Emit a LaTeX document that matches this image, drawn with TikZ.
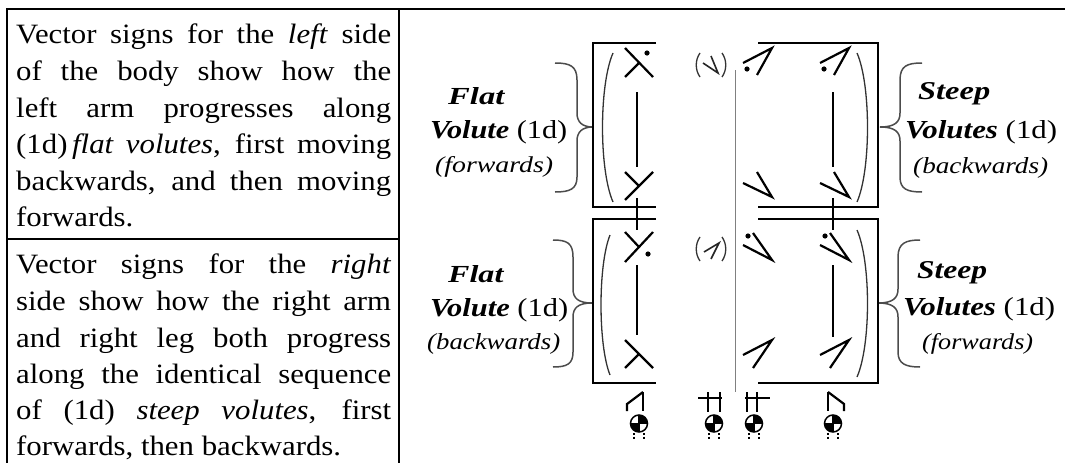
\documentclass[tikz,border=0pt]{standalone}
\usepackage{fontspec}
\setmainfont{Liberation Serif}[FakeStretch=1.1]
\newfontfamily\lblfont{Liberation Serif}
\usepackage{graphicx}
\newcommand{\lblbox}[3]{\resizebox{#1pt}{#2pt}{\lblfont #3}}
\begin{document}
\begin{tikzpicture}[x=1pt,y=-1pt,
  txt/.style={anchor=base west,inner sep=0pt,font=\fontsize{28}{36}\selectfont},
  lbl/.style={anchor=base west,inner sep=0pt,font=\fontsize{22}{24}\selectfont},
  tbl/.style={line width=2.5pt},
  boxln/.style={line width=1.6pt},
  sym/.style={line width=2.2pt},
  thin/.style={line width=1.6pt,draw=black!85},
  brace/.style={line width=1.5pt,draw=black!70},
  parn/.style={line width=1.3pt,draw=black!80},
  foot/.style={line width=1.6pt,dash pattern=on 2pt off 1.5pt}]
\useasboundingbox (0,0) rectangle (1065,463);
% table
\coordinate (tl) at (6,9);
\coordinate (tr) at (1065,9);
\coordinate (bl) at (7,463);
\coordinate (dt) at (399,9);
\coordinate (db) at (399,463);
\coordinate (ml) at (7,239);
\coordinate (mr) at (399,239);
\draw[tbl] (tl) -- (tr);
\draw[tbl] (7,9) -- (bl);
\draw[tbl] (dt) -- (db);
\draw[tbl] (ml) -- (mr);
% left texts
\newcommand{\jl}[1]{\makebox[375pt][s]{#1}}
\node[txt] (a1) at (16,43) {\jl{Vector signs for the \textit{left} side}};
\node[txt] (a2) at (16,80) {\jl{of the body show how the}};
\node[txt] (a3) at (16,117) {\jl{left arm progresses along}};
\node[txt] (a4) at (16,153) {\jl{(1d)\,\textit{flat volutes}, first moving}};
\node[txt] (a5) at (16,190) {\jl{backwards, and then moving}};
\node[txt] (a6) at (16,226) {forwards.};
\node[txt] (b1) at (16,273) {\jl{Vector signs for the \textit{right}}};
\node[txt] (b2) at (16,310) {\jl{side show how the right arm}};
\node[txt] (b3) at (16,347) {\jl{and right leg both progress}};
\node[txt] (b4) at (16,383) {\jl{along the identical sequence}};
\node[txt] (b5) at (16,419) {\jl{of (1d) \textit{steep volutes}, first}};
\node[txt] (b6) at (16,455) {forwards, then backwards.};
% labels left
\node[lbl] (fl1) at (448,104) {\lblbox{57}{17}{\textbf{\textit{Flat}}}};
\node[lbl] (vo1) at (430,138) {\lblbox{137}{18}{\textbf{\textit{Volute}} (1d)}};
\node[lbl] (fw1) at (435,172) {\lblbox{118}{16}{\textit{(forwards)}}};
\node[lbl] (fl2) at (448,282) {\lblbox{56}{17}{\textbf{\textit{Flat}}}};
\node[lbl] (vo2) at (430,316) {\lblbox{138}{18}{\textbf{\textit{Volute}} (1d)}};
\node[lbl] (bw2) at (427,349) {\lblbox{133}{16}{\textit{(backwards)}}};
% labels right
\node[lbl] (st1) at (918,99) {\lblbox{72}{17}{\textbf{\textit{Steep}}}};
\node[lbl] (vs1) at (905,138) {\lblbox{152}{18}{\textbf{\textit{Volutes}} (1d)}};
\node[lbl] (bw1) at (913,173) {\lblbox{135}{16}{\textit{(backwards)}}};
\node[lbl] (st2) at (917,278) {\lblbox{70}{17}{\textbf{\textit{Steep}}}};
\node[lbl] (vs2) at (903,315) {\lblbox{152}{18}{\textbf{\textit{Volutes}} (1d)}};
\node[lbl] (fw2) at (922,349) {\lblbox{111}{16}{\textit{(forwards)}}};
% braces
\draw[brace] (555,63) .. controls (570,63) and (577,66) .. (577,80) -- (577,113) .. controls (577,122) and (582,127) .. (593,127) .. controls (582,127) and (577,132) .. (577,141) -- (577,177) .. controls (577,189) and (570,192) .. (555,192);
\draw[brace] (553,240) .. controls (567,240) and (573,243) .. (573,257) -- (573,289) .. controls (573,298) and (578,303) .. (592,303) .. controls (578,303) and (573,308) .. (573,317) -- (573,352) .. controls (573,364) and (567,367) .. (553,367);
\draw[brace] (922,63) .. controls (907,63) and (900,66) .. (900,80) -- (900,113) .. controls (900,122) and (895,127) .. (880,127) .. controls (895,127) and (900,132) .. (900,141) -- (900,177) .. controls (900,189) and (907,192) .. (922,192);
\draw[brace] (920,240) .. controls (906,240) and (898,243) .. (898,257) -- (898,289) .. controls (898,298) and (893,303) .. (878,303) .. controls (893,303) and (898,308) .. (898,317) -- (898,352) .. controls (898,364) and (906,367) .. (920,367);
% boxes
\draw[boxln] (656,43) -- (593,43) -- (593,207) -- (656,207);
\draw[boxln] (656,219) -- (593,219) -- (593,383) -- (656,383);
\draw[boxln] (758,43) -- (878,43) -- (878,207) -- (758,207);
\draw[boxln] (758,219) -- (878,219) -- (878,383) -- (758,383);
% parens
\draw[parn] (613,53) .. controls (599,85) and (599,170) .. (613,202);
\draw[parn] (610,235) .. controls (598,265) and (598,345) .. (610,375);
\draw[parn] (857,53) .. controls (871,85) and (871,170) .. (857,202);
\draw[parn] (857,230) .. controls (871,262) and (871,345) .. (857,377);
% ticks and stems
\draw[boxln] (637,198) -- (637,230);
\draw[boxln] (833,198) -- (833,230);
\draw[boxln] (637,92) -- (637,167);
\draw[boxln] (637,265) -- (637,335);
\draw[boxln] (833,92) -- (833,167);
\draw[boxln] (833,265) -- (833,337);
% centre line
\draw[line width=1pt,draw=black!50] (735,70) -- (735,392);
% left column symbols
\draw[sym] (625,48) -- (653,77);
\draw[sym] (625,77) -- (639,63);
\fill (647,53) circle (2.6);
\draw[sym] (625,200) -- (653,172);
\draw[sym] (625,172) -- (639,186);
\draw[sym] (653,232) -- (625,262);
\draw[sym] (625,232) -- (639,247);
\fill (648,254) circle (2.6);
\draw[sym] (625,340) -- (653,368);
\draw[sym] (625,368) -- (639,354);
% right column symbols
\foreach \dx in {0,77}{
  \draw[sym] (743+\dx,63) -- (772+\dx,48) -- (757+\dx,75);
  \fill (747+\dx,69) circle (2.6);
  \draw[sym] (743+\dx,183) -- (772+\dx,197) -- (757+\dx,172);
  \draw[sym] (743+\dx,245) -- (772+\dx,260) -- (753+\dx,233);
  \fill (748+\dx,236) circle (2.6);
  \draw[sym] (743+\dx,355) -- (772+\dx,340) -- (753+\dx,368);
}
% parenthesised middle signs
\draw[parn] (700,53) .. controls (695,60) and (695,70) .. (700,77);
\draw[parn] (722,53) .. controls (727,60) and (727,70) .. (722,77);
\draw[thin] (703,63) -- (718,73) -- (711,56);
\draw[parn] (700,237) .. controls (695,244) and (695,254) .. (700,261);
\draw[parn] (722,237) .. controls (727,244) and (727,254) .. (722,261);
\draw[thin] (704,252) -- (719,243) -- (711,259);
% bottom signs
\draw[sym] (643,392) -- (643,411);
\draw[sym] (627,411) -- (627,404) -- (643,392);
\draw[sym] (698,398) -- (722,398);
\draw[sym] (708,392) -- (708,412);
\draw[sym] (720,392) -- (720,412);
\draw[sym] (745,398) -- (770,398);
\draw[sym] (747,392) -- (747,412);
\draw[sym] (757,392) -- (757,412);
\draw[sym] (828,392) -- (828,411);
\draw[sym] (844,411) -- (844,404) -- (828,392);
\foreach \cx in {639,714,754,833}{
  \fill (\cx,423.5) -- ++(8.5,0) arc[start angle=0,end angle=-90,radius=8.5] -- cycle;
  \fill (\cx,423.5) -- ++(-8.5,0) arc[start angle=180,end angle=90,radius=8.5] -- cycle;
  \draw[line width=1.5pt] (\cx,423.5) circle (8.5);
  \draw[line width=1.2pt] (\cx-8.5,423.5) -- (\cx+8.5,423.5) (\cx,415) -- (\cx,432);
  \draw[foot] (\cx-5,433) -- (\cx-5,440);
  \draw[foot] (\cx+5,433) -- (\cx+5,440);
}
\end{tikzpicture}
\end{document}
